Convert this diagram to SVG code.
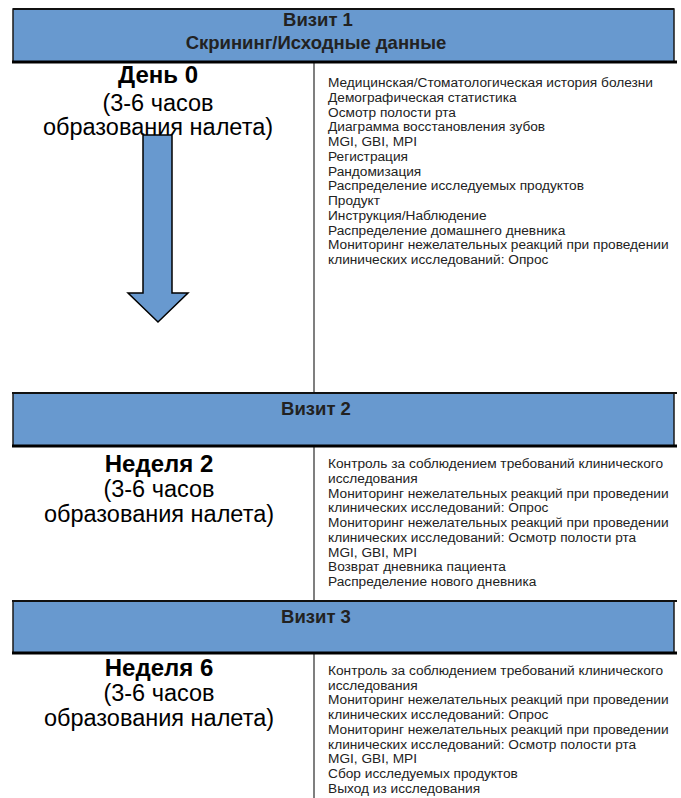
<svg xmlns="http://www.w3.org/2000/svg" width="681" height="798" viewBox="0 0 681 798">
<style>
.banner{fill:#6899cf;stroke:#1a1a1a;stroke-width:1.5}
.bline{stroke:#000;stroke-width:3}
.tline{stroke:#111;stroke-width:2}
.div{stroke:#555;stroke-width:1.5}
.title{font-family:"Liberation Sans",Arial,sans-serif;font-weight:bold;font-size:18.5px;fill:#222;text-anchor:middle}
.day{font-family:"Liberation Sans",Arial,sans-serif;font-weight:bold;font-size:24px;fill:#000;text-anchor:middle}
.sub{font-family:"Liberation Sans",Arial,sans-serif;font-size:23.5px;fill:#000;text-anchor:middle}
.item{font-family:"Liberation Sans",Arial,sans-serif;font-size:13.7px;fill:#222}
.arrow{fill:#6899cf;stroke:#000;stroke-width:1.5;stroke-linejoin:miter}
</style>
<rect width="681" height="798" fill="#fff"/>

<g id="connectors">
  <line class="div" x1="314" y1="62" x2="314" y2="393"/>
  <line class="div" x1="314" y1="446" x2="314" y2="601"/>
  <line class="div" x1="314" y1="653" x2="314" y2="798"/>
  <path class="arrow" d="M143,135 H172 V293 H188 L158,322 L128,293 H143 Z"/>
</g>

<g id="visit1">
  <rect class="banner" x="13" y="9" width="661" height="53"/>
  <line class="tline" x1="13" y1="9" x2="674" y2="9"/>
  <line class="bline" x1="12" y1="62" x2="677" y2="62"/>
  <text class="title" x="318" y="26">Визит 1</text>
  <text class="title" x="316" y="49" font-size="20px">Скрининг/Исходные данные</text>
</g>

<g id="day0">
  <text class="day" x="158" y="83" font-size="27px">День 0</text>
  <text class="sub" x="158" y="111">(3-6 часов</text>
  <text class="sub" x="158" y="135">образования налета)</text>
</g>

<g id="list1">
  <text class="item" x="328" y="87">Медицинская/Стоматологическая история болезни</text>
  <text class="item" x="328" y="101.75">Демографическая статистика</text>
  <text class="item" x="328" y="116.5">Осмотр полости рта</text>
  <text class="item" x="328" y="131.25">Диаграмма восстановления зубов</text>
  <text class="item" x="328" y="146">MGI, GBI, MPI</text>
  <text class="item" x="328" y="160.75">Регистрация</text>
  <text class="item" x="328" y="175.5">Рандомизация</text>
  <text class="item" x="328" y="190.25">Распределение исследуемых продуктов</text>
  <text class="item" x="328" y="205">Продукт</text>
  <text class="item" x="328" y="219.75">Инструкция/Наблюдение</text>
  <text class="item" x="328" y="234.5">Распределение домашнего дневника</text>
  <text class="item" x="328" y="249.25">Мониторинг нежелательных реакций при проведении</text>
  <text class="item" x="328" y="264">клинических исследований: Опрос</text>
</g>

<g id="visit2">
  <rect class="banner" x="13" y="393" width="661" height="53"/>
  <line class="tline" x1="12" y1="393" x2="677" y2="393"/>
  <line class="bline" x1="12" y1="446" x2="677" y2="446"/>
  <text class="title" x="316" y="415">Визит 2</text>
</g>

<g id="week2">
  <text class="day" x="159" y="472">Неделя 2</text>
  <text class="sub" x="159" y="497">(3-6 часов</text>
  <text class="sub" x="159" y="522">образования налета)</text>
</g>

<g id="list2">
  <text class="item" x="328" y="468">Контроль за соблюдением требований клинического</text>
  <text class="item" x="328" y="482.75">исследования</text>
  <text class="item" x="328" y="497.5">Мониторинг нежелательных реакций при проведении</text>
  <text class="item" x="328" y="512.25">клинических исследований: Опрос</text>
  <text class="item" x="328" y="527">Мониторинг нежелательных реакций при проведении</text>
  <text class="item" x="328" y="541.75">клинических исследований: Осмотр полости рта</text>
  <text class="item" x="328" y="556.5">MGI, GBI, MPI</text>
  <text class="item" x="328" y="571.25">Возврат дневника пациента</text>
  <text class="item" x="328" y="586">Распределение нового дневника</text>
</g>

<g id="visit3">
  <rect class="banner" x="13" y="601" width="661" height="52"/>
  <line class="tline" x1="12" y1="601" x2="677" y2="601"/>
  <line class="bline" x1="12" y1="653" x2="677" y2="653"/>
  <text class="title" x="316" y="623">Визит 3</text>
</g>

<g id="week6">
  <text class="day" x="159" y="676">Неделя 6</text>
  <text class="sub" x="159" y="701">(3-6 часов</text>
  <text class="sub" x="159" y="726">образования налета)</text>
</g>

<g id="list3">
  <text class="item" x="328" y="675">Контроль за соблюдением требований клинического</text>
  <text class="item" x="328" y="689.7">исследования</text>
  <text class="item" x="328" y="704.4">Мониторинг нежелательных реакций при проведении</text>
  <text class="item" x="328" y="719.1">клинических исследований: Опрос</text>
  <text class="item" x="328" y="733.8">Мониторинг нежелательных реакций при проведении</text>
  <text class="item" x="328" y="748.5">клинических исследований: Осмотр полости рта</text>
  <text class="item" x="328" y="763.2">MGI, GBI, MPI</text>
  <text class="item" x="328" y="777.9">Сбор исследуемых продуктов</text>
  <text class="item" x="328" y="792.6">Выход из исследования</text>
</g>
</svg>
